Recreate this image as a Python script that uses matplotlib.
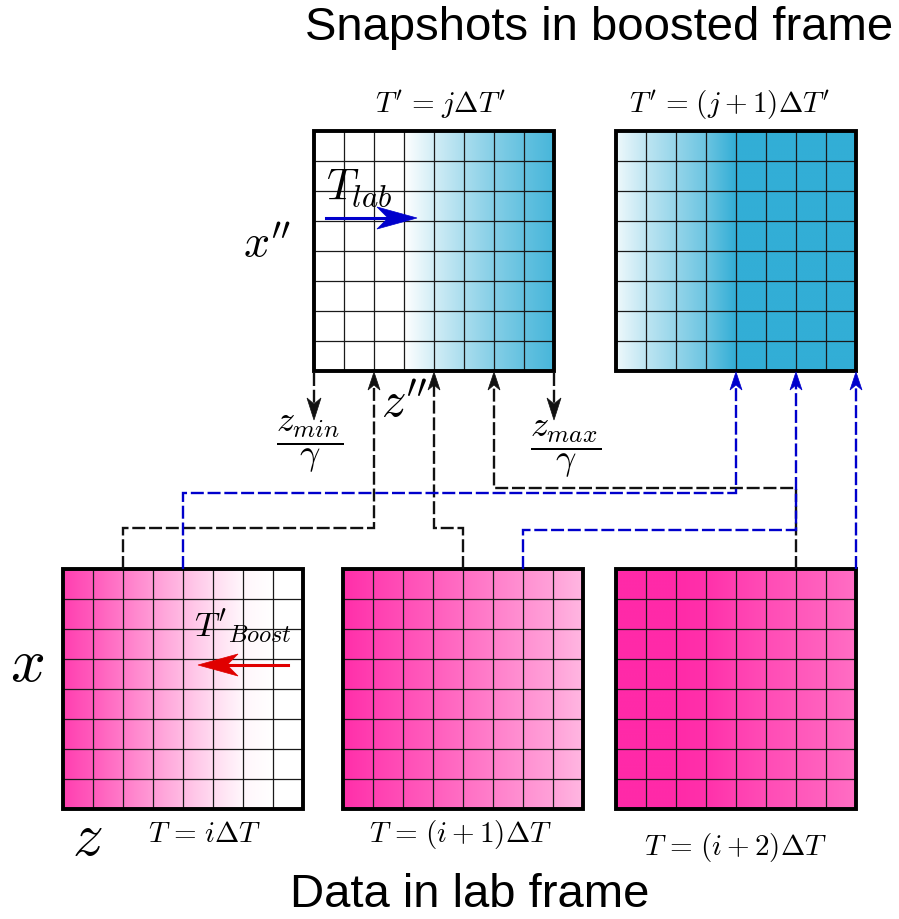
import numpy as np
import matplotlib
matplotlib.use("Agg")
import matplotlib.pyplot as plt
from matplotlib.patches import Rectangle, Polygon
from matplotlib.colors import to_rgb

plt.rcParams['mathtext.fontset'] = 'cm'

# ---------------- data ----------------
N_CELLS = 8
SP = r"\hspace{0.12}"
boost_titles = [r"$T'" + SP + "=" + SP + r"j\Delta T'$",
                r"$T'" + SP + "=" + SP + r"(j+1)\Delta T'$"]
lab_titles = [r"$T" + SP + "=" + SP + r"i\Delta T$",
              r"$T" + SP + "=" + SP + r"(i+1)\Delta T$",
              r"$T" + SP + "=" + SP + r"(i+2)\Delta T$"]
# colour intensity at the 9 column boundaries of each snapshot
boost_shade = [[0, 0, 0, 0.0, 0.22, 0.42, 0.6, 0.76, 0.9],
               [0.08, 0.32, 0.52, 0.72, 1, 1, 1, 1, 1]]
lab_shade = [[0.9, 0.77, 0.62, 0.47, 0.32, 0.17, 0.04, 0, 0],
             [0.98, 0.9, 0.83, 0.76, 0.68, 0.6, 0.52, 0.44, 0.34],
             [1, 1, 1, 0.97, 0.9, 0.84, 0.79, 0.74, 0.68]]
# links lab snapshot column -> boosted snapshot column
link_lab = [0, 1, 2, 0, 1, 2]
link_lab_col = [2, 4, 6, 4, 6, 8]
link_boost = [0, 0, 0, 1, 1, 1]
link_boost_col = [2, 4, 6, 4, 6, 8]
link_kind = ['black', 'black', 'black', 'blue', 'blue', 'blue']

# ---------------- layout / style ----------------
W, H = 899, 919
BOX = 240
boost_left = [314, 616]
boost_top = 131
lab_left = [63, 343, 616]
lab_top = 569
route_y = [528, 528, 488, 493, 530, 530]
BLUE_FILL = to_rgb("#33AED6")
PINK_FILL = to_rgb("#FF2AA8")
LINE_COL = {'black': '#111111', 'blue': '#0000CC'}

fig = plt.figure(figsize=(W / 100, H / 100), dpi=100)
ax = fig.add_axes([0, 0, 1, 1])
ax.set_axis_off()


def draw_box(left, top, shade, base):
    xs = np.linspace(0, N_CELLS, 400)
    t = np.interp(xs, np.arange(N_CELLS + 1), shade)
    col = 1 - t[:, None] * (1 - np.array(base))[None, :]
    img = np.clip(col, 0, 1)[None, :, :]
    ax.imshow(img, extent=(left, left + BOX, top + BOX, top), aspect='auto',
              interpolation='bilinear', zorder=1)
    cell = BOX / N_CELLS
    for k in range(1, N_CELLS):
        ax.plot([left + k * cell] * 2, [top, top + BOX], color='#1a1a1a', lw=0.9, zorder=2)
        ax.plot([left, left + BOX], [top + k * cell] * 2, color='#1a1a1a', lw=0.9, zorder=2)
    ax.add_patch(Rectangle((left, top), BOX, BOX, fill=False, ec='black', lw=2.8,
                           joinstyle='miter', zorder=3))


def head(x, y, d, color, L=22, Wd=7, notch=6):
    # d = +1 pointing down (y increases), -1 pointing up
    pts = [(x, y), (x - Wd, y - d * L), (x, y - d * (L - notch)), (x + Wd, y - d * L)]
    ax.add_patch(Polygon(pts, closed=True, fc=color, ec=color, lw=0.5, zorder=5))


def hhead(x, y, d, color, L=40, Wd=11, notch=11):
    # horizontal head, d=+1 pointing right
    pts = [(x, y), (x - d * L, y - Wd), (x - d * (L - notch), y), (x - d * L, y + Wd)]
    ax.add_patch(Polygon(pts, closed=True, fc=color, ec=color, lw=0.5, zorder=6))


for i in range(2):
    draw_box(boost_left[i], boost_top, boost_shade[i], BLUE_FILL)
for i in range(3):
    draw_box(lab_left[i], lab_top, lab_shade[i], PINK_FILL)

cell = BOX / N_CELLS
dash = (5.5, 1.6)
LW = 1.7
for n in range(len(link_lab)):
    c = LINE_COL[link_kind[n]]
    x0 = lab_left[link_lab[n]] + link_lab_col[n] * cell
    x1 = boost_left[link_boost[n]] + link_boost_col[n] * cell
    y_end = boost_top + BOX + 1
    if abs(x1 - x0) < 1:
        xs, ys = [x0, x1], [lab_top, y_end + 12]
    else:
        ry = route_y[n]
        xs = [x0, x0, x1, x1]
        ys = [lab_top, ry, ry, y_end + 12]
    ax.plot(xs, ys, color=c, lw=LW, dashes=dash, zorder=4, solid_joinstyle='miter',
            dash_joinstyle='miter')
    head(x1, y_end, -1, c, L=18, Wd=6, notch=5)

# z_min / z_max projections
for xk in [boost_left[0], boost_left[0] + BOX]:
    ax.plot([xk, xk], [boost_top + BOX + 2, 405], color='#111111', lw=LW, dashes=dash, zorder=4)
    head(xk, 420, 1, '#111111')

# direction arrows
ax.plot([326, 390], [218, 218], color='#0000CC', lw=2.2, zorder=6)
hhead(417, 218, 1, '#0000CC')
ax.plot([288, 225], [665, 665], color='#E00000', lw=2.2, zorder=6)
hhead(198, 665, -1, '#E00000')

# ---------------- texts ----------------
ax.text(893, 40, "Snapshots in boosted frame", fontsize=34, ha='right', va='baseline',
        family=['Liberation Sans Narrow', 'Liberation Sans', 'DejaVu Sans'])
ax.text(470, 907, "Data in lab frame", fontsize=34, ha='center', va='baseline',
        family=['Liberation Sans', 'DejaVu Sans'])

ax.text(440, 113, boost_titles[0], fontsize=21, ha='center', va='baseline')
ax.text(730, 113, boost_titles[1], fontsize=21, ha='center', va='baseline')
ax.text(205, 842, lab_titles[0], fontsize=21, ha='center', va='baseline')
ax.text(461, 842, lab_titles[1], fontsize=21, ha='center', va='baseline')
ax.text(736, 855, lab_titles[2], fontsize=21, ha='center', va='baseline')

ax.text(326, 199, r"$T_{lab}$", fontsize=32, ha='left', va='baseline', zorder=7)
ax.text(194, 636, r"$T'_{Boost}$", fontsize=25, ha='left', va='baseline', zorder=7)
ax.text(267, 257, r"$x''$", fontsize=33, ha='center', va='baseline')
ax.text(27, 681, r"$x$", fontsize=44, ha='center', va='baseline')
ax.text(87, 855, r"$z$", fontsize=44, ha='center', va='baseline')
ax.text(404, 417, r"$z''$", fontsize=35, ha='center', va='baseline')
ax.text(310, 444, r"$\dfrac{z_{min}}{\gamma}$", fontsize=26, ha='center', va='center')
ax.text(566, 449, r"$\dfrac{z_{max}}{\gamma}$", fontsize=26, ha='center', va='center')

ax.set_xlim(0, W)
ax.set_ylim(H, 0)
fig.savefig("out.png", dpi=100)
